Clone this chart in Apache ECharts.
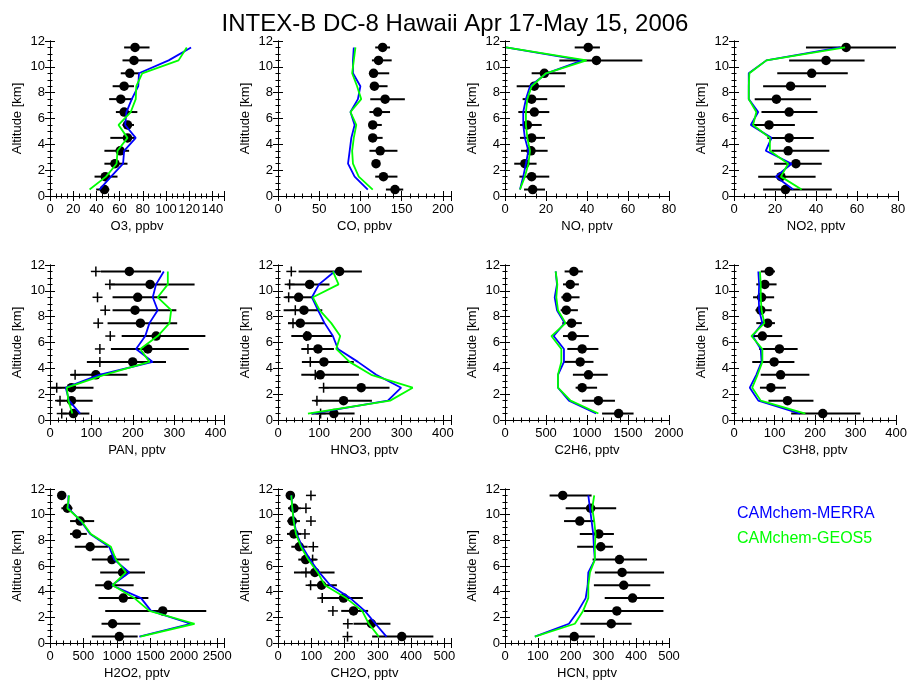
<!DOCTYPE html>
<html><head><meta charset="utf-8">
<script src="https://cdn.jsdelivr.net/npm/echarts@6/dist/echarts.min.js"></script>
<style>html,body{margin:0;padding:0;background:#fff}#c{width:910px;height:681px}</style>
</head><body><div id="c"></div>
<script>
const FONT = "'Liberation Sans', Arial, Helvetica, sans-serif";
const chartTitle = 'INTEX-B DC-8 Hawaii Apr 17-May 15, 2006';
const legendNames = ['CAMchem-MERRA', 'CAMchem-GEOS5'];
const altitudes = [11.5,10.5,9.5,8.5,7.5,6.5,5.5,4.5,3.5,2.5,1.5,0.5];
const altMax = 12, altStep = 2;
const axisTitles = ['O3, ppbv','CO, ppbv','NO, pptv','NO2, pptv','PAN, pptv','HNO3, pptv','C2H6, pptv','C3H8, pptv','H2O2, pptv','CH2O, pptv','HCN, pptv'];
const axisMax  = [150,210,80,80,420,420,2000,400,2600,520,500];
const axisStep = [20,50,20,20,100,100,500,100,500,100,100];
const minorSplit = [4,5,4,4,5,5,5,5,5,5,5];

// O3
const o3Obs   = [73.3,72.4,68.8,63.9,61,63.9,66.8,66.8,60.5,56,47.7,46.9];
const o3Lo    = [63.9,62.5,61,54,51,56.8,62.5,52,46.9,46.9,38.4,39.8];
const o3Hi    = [85.8,88,76.7,72.4,71,75.3,72.4,73.3,68.2,66.8,58.2,51.1];
const o3Merra = [121.6,102.3,76.7,76.1,70.5,65.9,64.8,73.9,63.9,63,52.6,42.6];
const o3Geos  = [117.9,110.8,79.5,74.4,73.9,69.6,59.1,66.8,58.2,57.4,48.3,34.1];
// CO
const coObs   = [127,122,116,117,130,121,115,115,124,119,128,142];
const coLo    = [118,114,112,112,112,111,112,111,111,115,118,131];
const coHi    = [136,138,135,133,154,136,126,127,145,124,145,152];
const coMerra = [92,91,91,100,97,88,93,89,87,85,93,109];
const coGeos  = [94,92,90,96,101,88,95,92,90,91,98,115];
// NO
const noObs   = [40.6,44.6,19.2,14.3,13,14.3,10.9,13,12.7,9.7,13,13.5];
const noLo    = [34,26.5,13,5.7,8.6,6.5,7.3,7.3,7.8,4.5,7,9.3];
const noHi    = [46.3,67,29.7,29.2,20.6,21.6,17.9,19.5,20.8,15.4,21.6,19.5];
const noMerra = [0.5,37.8,20.3,12.2,10.2,8.9,8.9,9.7,11.4,10.2,8.9,7.3];
const noGeos  = [0.5,39.8,20,13,10.9,10.2,10.2,10.9,12.2,11.4,9.7,7.3];
// NO2
const no2Obs   = [54.7,44.9,37.9,27.6,20.7,26.9,17.1,26.9,26.4,30.2,22.9,25.1];
const no2Lo    = [35.1,26.9,21.1,14.2,10.1,13.4,8.5,16.3,18.3,19.6,11.8,14.2];
const no2Hi    = [79,63.7,55.5,44.9,37.6,40.7,29.7,38.9,46.5,42.8,39.8,47.7];
const no2Merra = [51.8,15.8,7.2,7.2,7.2,11.8,8.2,18.3,15.5,28.1,20.4,28.9];
const no2Geos  = [54.2,15.8,7.5,7.2,7.2,10.9,9.3,17.5,17.5,26.4,22.9,33];
// PAN
const panObs   = [191.5,241.6,211.7,205.3,218.2,256.2,236,199.6,110.7,51.7,51.7,56.6];
const panPlus  = [110.7,144.6,114.7,133.3,116.4,145.5,120.4,120.4,60.6,16.2,24.2,28.3];
const panLo    = [123,147,151,151,139,173,147,89,50,2,16,30];
const panHi    = [268,349,283,305,307,375,335,280,187,105,103,95];
const panMerra = [274.7,256,248,260,240,230,207.7,248,118.8,38,46,72.7];
const panGeos  = [284.4,284.4,260,292.5,288.5,260,218,240,131,40.4,44.4,54];
// HNO3
const hno3Obs   = [149.5,76.8,50.1,63,54.1,71.1,97,111.5,102.6,202,159.2,135.8];
const hno3Plus  = [32.3,28.3,25.9,42,36.4,68.7,72.7,78.4,90.5,110.7,94.5,103.4];
const hno3Lo    = [50,22.6,17.8,13.7,24.2,32.3,56.6,58,56.6,109,89,80.8];
const hno3Hi    = [203.6,125,84.8,107.5,111.5,133,135.8,184,196.4,270.7,228,185.9];
const hno3Merra = [137.4,99.4,82.4,97,113,133.3,145.5,194,238.4,299,266.7,82.4];
const hno3Geos  = [133.3,147,84.8,101,129.3,151,141.4,173.7,226.3,327,272.3,72.7];
// C2H6
const c2h6Obs   = [840,796,756,747,812,820,941,917,1018,941,1139,1386];
const c2h6Lo    = [727,707,687,679,699,707,760,707,828,861,941,1184];
const c2h6Hi    = [949,901,909,889,937,1022,1139,1079,1253,1123,1341,1568];
const c2h6Merra = [618,634,606,634,727,594,719,719,646,646,780,1111];
const c2h6Geos  = [618,638,626,646,739,566,687,687,646,646,800,1139];
// C3H8
const c3h8Obs   = [87,76,68,66,83,70,112,99,115,91,132,219];
const c3h8Lo    = [66,55,47,53,55,43,62,45,66,64,85,141];
const c3h8Hi    = [101,105,99,93,101,119,157,149,186,128,196,312];
const c3h8Merra = [60,62,61,62,70,46,66,68,55,39,60,163];
const c3h8Geos  = [64,66,66,68,75,43,70,70,58,45,66,176];
// H2O2
const h2o2Obs   = [175,260,450,400,600,925,1085,870,1095,1685,935,1035];
const h2o2Lo    = [150,170,300,300,370,625,750,675,725,825,770,625];
const h2o2Hi    = [200,335,660,550,870,1185,1420,1250,1470,2335,1350,1310];
const h2o2Merra = [275,275,460,600,885,960,1185,925,1360,1510,2100,1335];
const h2o2Geos  = [285,260,470,610,910,985,1135,935,1260,1485,2160,1350];
// CH2O
const ch2oObs   = [37,48,43,48,64,83,111,131,197,227,281,372];
const ch2oPlus  = [99,84,99,81,106,104,84,98,133,165,210,209];
const ch2oLo    = [25,30,28,27,40,61,48,91,126,190,227,283];
const ch2oHi    = [51,69,66,69,89,116,170,177,255,271,338,467];
const ch2oMerra = [40,43,48,56,73,96,124,157,217,261,293,326];
const ch2oGeos  = [40,43,47,54,69,91,119,141,205,253,273,303];
// HCN
const hcnObs   = [176,261,228,286,292,349,357,362,389,341,324,211];
const hcnLo    = [136,185,180,228,220,267,274,271,304,241,230,163];
const hcnHi    = [264,339,274,332,329,433,485,443,485,483,386,274];
const hcnMerra = [254,259,264,269,271,274,254,252,246,223,195,91];
const hcnGeos  = [272,266,272,276,274,274,259,254,254,238,213,91];

const panels = [
  {obs:o3Obs, lo:o3Lo, hi:o3Hi, m:o3Merra, g:o3Geos},
  {obs:coObs, lo:coLo, hi:coHi, m:coMerra, g:coGeos},
  {obs:noObs, lo:noLo, hi:noHi, m:noMerra, g:noGeos},
  {obs:no2Obs, lo:no2Lo, hi:no2Hi, m:no2Merra, g:no2Geos},
  {obs:panObs, lo:panLo, hi:panHi, m:panMerra, g:panGeos, plus:panPlus},
  {obs:hno3Obs, lo:hno3Lo, hi:hno3Hi, m:hno3Merra, g:hno3Geos, plus:hno3Plus},
  {obs:c2h6Obs, lo:c2h6Lo, hi:c2h6Hi, m:c2h6Merra, g:c2h6Geos},
  {obs:c3h8Obs, lo:c3h8Lo, hi:c3h8Hi, m:c3h8Merra, g:c3h8Geos},
  {obs:h2o2Obs, lo:h2o2Lo, hi:h2o2Hi, m:h2o2Merra, g:h2o2Geos},
  {obs:ch2oObs, lo:ch2oLo, hi:ch2oHi, m:ch2oMerra, g:ch2oGeos, plus:ch2oPlus},
  {obs:hcnObs, lo:hcnLo, hi:hcnHi, m:hcnMerra, g:hcnGeos}
];

// layout
const colLeft = [50, 278, 505, 734];
const colWidth = [174, 173, 164, 164];
const rowTop = [41, 265, 489];
const plotH = 155;
const BLUE = '#0000ff', GREEN = '#00ff00';

const grids = [], xAxes = [], yAxes = [], series = [];
function multFmt(step){ return v => (Math.abs(v/step - Math.round(v/step)) < 1e-6) ? String(v) : ''; }
const axLine = {show:true, lineStyle:{color:'#000', width:1}};
function tick(len){ return {show:true, inside:true, length:len, lineStyle:{color:'#000', width:1}}; }

panels.forEach((p, i) => {
  const r = Math.floor(i/4), c = i % 4;
  grids.push({left: colLeft[c], top: rowTop[r], width: colWidth[c], height: plotH});
  const xBase = {gridIndex:i, type:'value', min:0, max:axisMax[i], interval:axisStep[i],
    axisLine:axLine, axisTick:tick(5), splitLine:{show:false},
    minorTick:{show:true, splitNumber:minorSplit[i], length:2.5, lineStyle:{color:'#000', width:1}}};
  xAxes.push(Object.assign({}, xBase, {position:'bottom', name:axisTitles[i], nameLocation:'middle', nameGap:24,
    nameTextStyle:{fontFamily:FONT, fontSize:13, color:'#000'},
    axisLabel:{show:true, margin:7, fontFamily:FONT, fontSize:13, color:'#000', formatter:multFmt(axisStep[i])}}));
  xAxes.push(Object.assign({}, xBase, {position:'top', axisLabel:{show:false}}));
  const yBase = {gridIndex:i, type:'value', min:0, max:altMax, interval:altStep,
    axisLine:axLine, axisTick:tick(5), splitLine:{show:false},
    minorTick:{show:true, splitNumber:4, length:2.5, lineStyle:{color:'#000', width:1}}};
  yAxes.push(Object.assign({}, yBase, {position:'left', name:'Altitude [km]', nameLocation:'middle', nameGap:26,
    nameTextStyle:{fontFamily:FONT, fontSize:13, color:'#000'},
    axisLabel:{show:true, margin:5, fontFamily:FONT, fontSize:13, color:'#000'}}));
  yAxes.push(Object.assign({}, yBase, {position:'right', axisLabel:{show:false}}));
  const xi = 2*i, yi = 2*i;
  series.push({type:'custom', xAxisIndex:xi, yAxisIndex:yi, silent:true,
    data: altitudes.map((a,k) => [p.lo[k], p.hi[k], a]), encode:{x:[0,1], y:2},
    renderItem:(params, api) => {
      const a = api.coord([api.value(0), api.value(2)]);
      const b = api.coord([api.value(1), api.value(2)]);
      return {type:'line', shape:{x1:a[0], y1:a[1], x2:b[0], y2:b[1]}, style:{stroke:'#000', lineWidth:2}};
    }});
  if (p.plus) {
    series.push({type:'custom', xAxisIndex:xi, yAxisIndex:yi, silent:true,
      data: altitudes.map((a,k) => [p.plus[k], a]), encode:{x:0, y:1},
      renderItem:(params, api) => {
        const q = api.coord([api.value(0), api.value(1)]); const s = 5;
        return {type:'group', children:[
          {type:'line', shape:{x1:q[0]-s, y1:q[1], x2:q[0]+s, y2:q[1]}, style:{stroke:'#000', lineWidth:1.5}},
          {type:'line', shape:{x1:q[0], y1:q[1]-s, x2:q[0], y2:q[1]+s}, style:{stroke:'#000', lineWidth:1.5}}]};
      }});
  }
  series.push({type:'scatter', xAxisIndex:xi, yAxisIndex:yi, silent:true, symbol:'circle', symbolSize:9.5,
    itemStyle:{color:'#000', opacity:1}, data: altitudes.map((a,k) => [p.obs[k], a])});
  series.push({type:'line', name:legendNames[0], xAxisIndex:xi, yAxisIndex:yi, silent:true, showSymbol:false, symbol:'none',
    lineStyle:{color:BLUE, width:1.8}, data: altitudes.map((a,k) => [p.m[k], a])});
  series.push({type:'line', name:legendNames[1], xAxisIndex:xi, yAxisIndex:yi, silent:true, showSymbol:false, symbol:'none',
    lineStyle:{color:GREEN, width:1.8}, data: altitudes.map((a,k) => [p.g[k], a])});
});

const chart = echarts.init(document.getElementById('c'), null, {renderer:'canvas'});
chart.setOption({
  animation:false,
  backgroundColor:'#fff',
  title:{text:chartTitle, left:'center', top:7, textStyle:{fontFamily:FONT, fontSize:24, fontWeight:'normal', color:'#000'}},
  grid:grids, xAxis:xAxes, yAxis:yAxes, series:series,
  graphic:[
    {type:'text', left:737, top:506, style:{text:legendNames[0], fill:BLUE, fontFamily:FONT, fontSize:16}},
    {type:'text', left:737, top:531, style:{text:legendNames[1], fill:GREEN, fontFamily:FONT, fontSize:16}}
  ]
});
</script></body></html>
